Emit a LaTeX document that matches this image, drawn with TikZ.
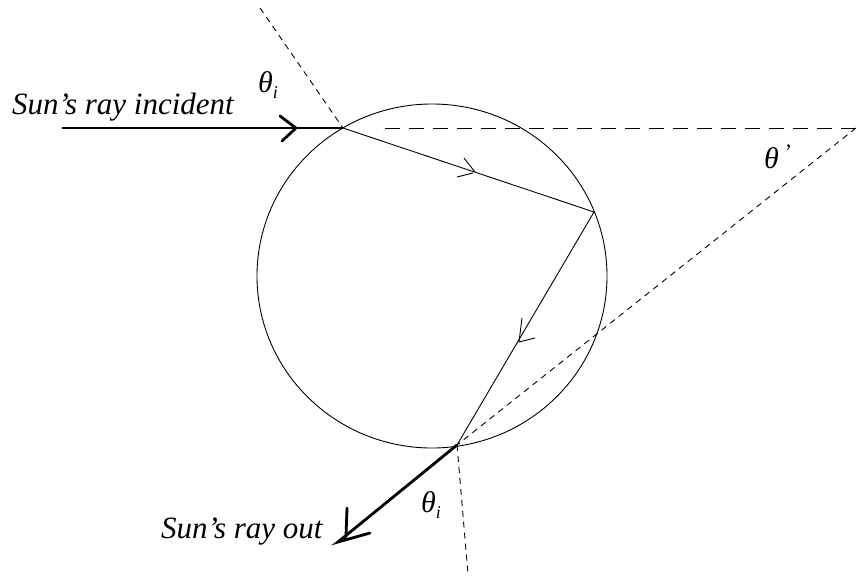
\documentclass[tikz,border=0pt]{standalone}
\usepackage{fontspec}
\setmainfont{Liberation Serif}
\begin{document}
\begin{tikzpicture}[x=1pt,y=-1pt,
  thinline/.style={line width=0.9pt},
  thickray/.style={line width=2.8pt},
  bigdash/.style={line width=1pt, dash pattern=on 15pt off 9pt},
  smalldash/.style={line width=0.9pt, dash pattern=on 6pt off 5pt},
  lbl/.style={font=\fontsize{31}{36}\selectfont\itshape, inner sep=0pt, anchor=base west},
  ang/.style={font=\fontsize{30}{32}\selectfont\itshape, inner sep=0pt, anchor=base west}]
\useasboundingbox (0,0) rectangle (856,576);
% key points
\coordinate (O) at (432,276);
\coordinate (A) at (343,128);
\coordinate (B) at (594,212);
\coordinate (C) at (457,445);
\coordinate (S) at (62,128);
\coordinate (E) at (338,542);
\coordinate (H) at (376,128);
\coordinate (V) at (856,128);
\coordinate (N1) at (260,8);
\coordinate (N2) at (468,574);
\coordinate (h1) at (296,128);
\coordinate (m1) at (475,172);
\coordinate (m2) at (519,342);
% drop
\draw[thinline] (O) ellipse [x radius=175pt, y radius=172pt];
% dashed construction lines
\draw[bigdash] (V) -- (H);
\draw[smalldash] (N1) -- (A);
\draw[smalldash] (C) -- (N2);
\draw[smalldash] (V) -- (C);
% internal ray path
\draw[thinline] (A) -- (B) -- (C);
\draw[thinline] (m1) ++(-11,-14) -- (m1);
\draw[thinline] (m1) ++(-18,5) -- ++(16,-4);
\draw[thinline] (m2) ++(3,-24) -- (m2) -- ++(16,-4);
% incident ray
\draw[thickray] (S) -- (A);
\draw[thickray, line cap=round] (h1) ++(-16,-12) -- (h1) -- ++(-14,13);
% outgoing ray
\draw[thickray] (C) -- (E);
\draw[thickray, line cap=round] (E) ++(9,-34) -- ++(-1,28) -- (E) -- ++(32,-9);
% labels
\node[lbl] (t1) at (12,114) {Sun's ray incident};
\node[lbl] (t2) at (161,538) {Sun's ray out};
\node[ang] (a1) at (258,92) {θ\raisebox{-6pt}{\fontsize{18}{18}\selectfont i}};
\node[ang] (a2) at (764,168) {θ\kern6pt\raisebox{9pt}{\fontsize{22}{22}\selectfont\upshape '}};
\node[ang] (a3) at (421,512) {θ\raisebox{-6pt}{\fontsize{18}{18}\selectfont i}};
\end{tikzpicture}
\end{document}
